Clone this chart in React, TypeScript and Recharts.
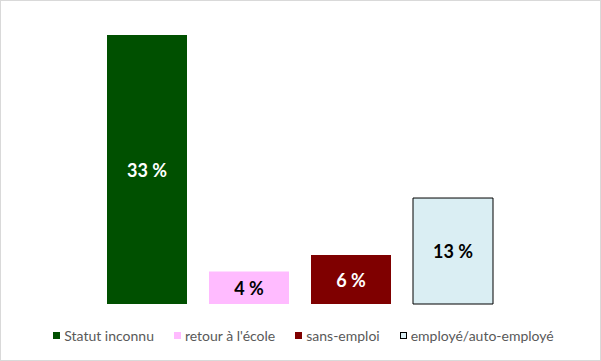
import React from 'react';
import { BarChart, Bar, XAxis, YAxis, Cell, LabelList, Legend } from 'recharts';

const categories = ['Statut inconnu', "retour à l'école", 'sans-emploi', 'employé/auto-employé'];
const values = [33, 4, 6, 13];
const colors = ['#005000', '#ffbbff', '#7f0000', '#daeef3'];
const strokes = ['none', 'none', 'none', '#000000'];
const labelColors = ['#ffffff', '#000000', '#ffffff', '#000000'];

const data = categories.map((name, i) => ({ name, value: values[i] }));

const FONT = 'Lato, "Open Sans", sans-serif';

const renderLabel = (props: any) => {
  const { x, y, width, height, value, index } = props;
  return (
    <text
      x={x + width / 2}
      y={y + height / 2}
      textAnchor="middle"
      dominantBaseline="central"
      fill={labelColors[index]}
      fontFamily={FONT}
      fontWeight={700}
      fontSize={18}
    >
      {`${value} %`}
    </text>
  );
};

const renderLegend = () => (
  <div
    style={{
      display: 'flex',
      justifyContent: 'center',
      alignItems: 'center',
      fontFamily: FONT,
      fontSize: 14,
      lineHeight: '17px',
      color: '#595959',
      paddingLeft: 6,
    }}
  >
    {categories.map((c, i) => (
      <span
        key={c}
        style={{
          display: 'inline-flex',
          alignItems: 'center',
          marginRight: i < categories.length - 1 ? 20 : 0,
          whiteSpace: 'nowrap',
        }}
      >
        <span
          style={{
            display: 'inline-block',
            width: strokes[i] === 'none' ? 7 : 5,
            height: strokes[i] === 'none' ? 7 : 5,
            background: colors[i],
            border: strokes[i] === 'none' ? 'none' : `1px solid ${strokes[i]}`,
            marginRight: 4,
          }}
        />
        {c}
      </span>
    ))}
  </div>
);

export default function App() {
  return (
    <div style={{ position: 'absolute', left: 0, top: 0, width: 601, height: 361, background: '#fff' }}>
      <BarChart
        width={601}
        height={361}
        data={data}
        margin={{ top: 35, right: 97, bottom: 57, left: 96 }}
        barCategoryGap={0}
      >
        <XAxis dataKey="name" hide />
        <YAxis hide domain={[0, 33]} />
        <Legend
          verticalAlign="middle"
          align="center"
          content={renderLegend}
          wrapperStyle={{ position: 'absolute', top: 327, left: 0, width: 601 }}
        />
        <Bar dataKey="value" barSize={80} isAnimationActive={false}>
          {data.map((d, i) => (
            <Cell key={d.name} fill={colors[i]} stroke={strokes[i]} strokeWidth={1} />
          ))}
          <LabelList dataKey="value" content={renderLabel} />
        </Bar>
      </BarChart>
      <div
        style={{
          position: 'absolute',
          left: 0,
          top: 0,
          width: 601,
          height: 361,
          boxSizing: 'border-box',
          border: '1px solid #d9d9d9',
          pointerEvents: 'none',
        }}
      />
    </div>
  );
}
